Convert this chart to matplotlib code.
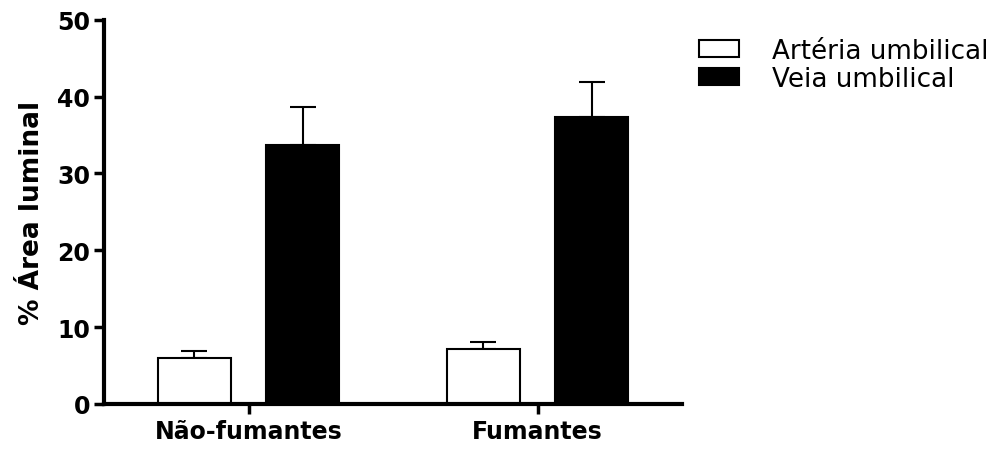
import matplotlib
matplotlib.use("Agg")
import matplotlib.pyplot as plt
import numpy as np

plt.rcParams['font.family'] = ['DejaVu Sans']

groups = ["Não-fumantes", "Fumantes"]
series_names = ["Artéria umbilical", "Veia umbilical"]
arteria_mean = [6.0, 7.2]
arteria_err = [0.9, 0.9]
veia_mean = [33.7, 37.4]
veia_err = [5.0, 4.5]
yticks = [0, 10, 20, 30, 40, 50]

fig = plt.figure(figsize=(10.05, 4.52), dpi=100)
ax = fig.add_axes([104/1005, 1 - 405/452, (682-104)/1005, (405-20.7)/452])

x = np.arange(len(groups))
w = 0.253
off = 0.187

ax.bar(x - off, arteria_mean, w, color="white", edgecolor="black", linewidth=1.5,
       label=series_names[0], zorder=2)
ax.bar(x + off, veia_mean, w, color="black", edgecolor="black", linewidth=1.5,
       label=series_names[1], zorder=2)
ax.errorbar(x - off, arteria_mean, yerr=[np.zeros(2), arteria_err], fmt="none",
            ecolor="black", elinewidth=1.5, capsize=9.5, capthick=1.5, zorder=1)
ax.errorbar(x + off, veia_mean, yerr=[np.zeros(2), veia_err], fmt="none",
            ecolor="black", elinewidth=1.5, capsize=9.5, capthick=1.5, zorder=1)

ax.set_xlim(-0.5, 1.5)
ax.set_ylim(0, 50)
ax.set_yticks(yticks)
ax.set_xticks(x)
ax.set_xticklabels(groups, fontsize=17, fontweight="bold")
ax.tick_params(axis="y", labelsize=17, width=2.5, length=7, direction="out", pad=3)
ax.tick_params(axis="x", width=2.5, length=7, direction="out", pad=4)
for lab in ax.get_yticklabels():
    lab.set_fontweight("bold")
ax.set_ylabel("% Área luminal", fontsize=19, fontweight="bold", labelpad=9)

for s in ["top", "right"]:
    ax.spines[s].set_visible(False)
for s in ["left", "bottom"]:
    ax.spines[s].set_linewidth(3)

leg = ax.legend(loc="upper left", bbox_to_anchor=(1.011, 0.98), frameon=False,
                fontsize=18.8, handlelength=1.54, handleheight=0.61,
                handletextpad=1.28, labelspacing=0.08, borderaxespad=0)

fig.savefig("out.png", dpi=100)
